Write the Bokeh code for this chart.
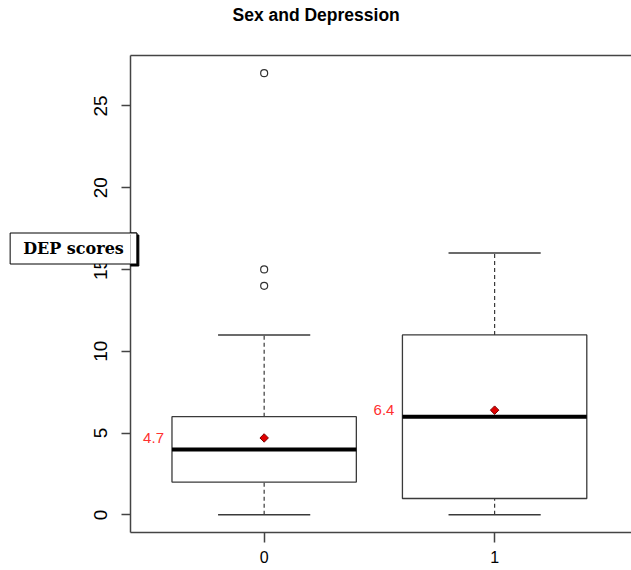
import math
from bokeh.plotting import figure
from bokeh.models import FixedTicker, LinearAxis, Label, Range1d, ColumnDataSource, Title
from bokeh.embed import file_html
from bokeh.resources import INLINE
from bokeh.core.properties import value

# ---- data ----
title = "Sex and Depression"
ylabel = "DEP scores"
groups = ["0", "1"]
q1 = [2, 1]
median = [4, 6]
q3 = [6, 11]
whisk_lo = [0, 0]
whisk_hi = [11, 16]
means = [4.7, 6.4]
outlier_group = ["0", "0", "0"]
outlier_vals = [27, 15, 14]
y_ticks = [0, 5, 10, 15, 20, 25]

# ---- derived positions ----
pos = [i + 1 for i in range(len(groups))]
gpos = {g: i + 1 for i, g in enumerate(groups)}
box_w = 0.8
cap_w = 0.4

src = ColumnDataSource(dict(
    x=pos, q1=q1, q3=q3, med=median, lo=whisk_lo, hi=whisk_hi, mean=means,
    left=[x - box_w / 2 for x in pos], right=[x + box_w / 2 for x in pos],
    cl=[x - cap_w / 2 for x in pos], cr=[x + cap_w / 2 for x in pos],
    tx=[x - 0.48 for x in pos], txt=[f"{m}" for m in means],
))
osrc = ColumnDataSource(dict(x=[gpos[g] for g in outlier_group], y=outlier_vals))

p = figure(width=631, height=570, output_backend="svg", toolbar_location=None,
           x_range=Range1d(0.42, 2.594), y_range=Range1d(-1.08, 28.08),
           min_border_left=130, min_border_right=0, min_border_top=55,
           min_border_bottom=38)
p.outline_line_color = None
p.grid.visible = False
p.background_fill_color = "white"
p.border_fill_color = "white"

frame_col = "#444444"
box_col = "#3a3a3a"

p.segment(x0="x", y0="q3", x1="x", y1="hi", source=src, line_color=box_col,
          line_width=1.2, line_dash="4 3")
p.segment(x0="x", y0="lo", x1="x", y1="q1", source=src, line_color=box_col,
          line_width=1.2, line_dash="4 3")
p.segment(x0="cl", y0="hi", x1="cr", y1="hi", source=src, line_color=box_col, line_width=1.5)
p.segment(x0="cl", y0="lo", x1="cr", y1="lo", source=src, line_color=box_col, line_width=1.5)
p.quad(left="left", right="right", bottom="q1", top="q3", source=src,
       fill_color="white", line_color=box_col, line_width=1.3)
p.segment(x0="left", y0="med", x1="right", y1="med", source=src,
          line_color="black", line_width=4)
p.scatter(x="x", y="y", source=osrc, marker="circle", size=7,
          fill_color="white", line_color="#333333", line_width=1.2)
p.scatter(x="x", y="mean", source=src, marker="square", angle=math.pi / 4, size=6,
          fill_color="#e00000", line_color="#7a0000", line_width=1)
p.text(x="tx", y="mean", text="txt", source=src, text_color="#ff3030",
       text_font=value("Liberation Sans"), text_font_size="15px",
       text_align="center", text_baseline="middle")

xa = p.xaxis[0]
xa.ticker = FixedTicker(ticks=pos)
xa.major_label_overrides = {x: g for x, g in zip(pos, groups)}
xa.minor_tick_line_color = None
xa.major_tick_out = 10
xa.major_tick_in = 0
xa.major_label_standoff = 8
xa.major_label_text_font = "Liberation Sans"
xa.major_label_text_font_size = "16px"
xa.major_label_text_color = "black"
xa.axis_line_color = frame_col
xa.axis_line_width = 1.5
xa.major_tick_line_color = frame_col
xa.major_tick_line_width = 1.5

ya = p.yaxis[0]
ya.ticker = FixedTicker(ticks=y_ticks)
ya.minor_tick_line_color = None
ya.major_tick_out = 9
ya.major_tick_in = 0
ya.major_label_standoff = 14
ya.major_label_orientation = "vertical"
ya.major_label_text_font = "Liberation Sans"
ya.major_label_text_font_size = "19px"
ya.major_label_text_color = "black"
ya.axis_line_color = frame_col
ya.axis_line_width = 1.5
ya.major_tick_line_color = frame_col
ya.major_tick_line_width = 1.5

top_axis = LinearAxis(ticker=FixedTicker(ticks=[]), major_tick_line_color=None,
                      minor_tick_line_color=None, major_label_text_font_size="0px",
                      major_tick_out=0, major_tick_in=0, major_label_standoff=0,
                      axis_line_color=frame_col, axis_line_width=1.5)
p.add_layout(top_axis, "above")

# boxed y label with drop shadow
common = dict(x=73, y=248, x_units="canvas", y_units="canvas", text=ylabel,
              text_font="DejaVu Serif", text_font_style="bold", text_font_size="16px",
              text_align="center", text_baseline="middle", padding=(13, 6))
box_style = dict(text_color="black", background_fill_color="white",
                 border_line_color="black", border_line_width=1)
# part of the box lying over the plot frame: shadow, then box again on top of it
p.add_layout(Label(x_offset=2, y_offset=-2, text_color="black",
                   background_fill_color="black", border_line_color="black", **common))
p.add_layout(Label(**box_style, **common))
# the box itself, in the side panel so that it is not clipped to the frame
p.add_layout(Label(**box_style, **common), "above")

p.add_layout(Title(text=title, align="left", offset=102, standoff=0,
                   text_font="Liberation Sans", text_font_style="bold",
                   text_font_size="17.5px", text_color="black"), "above")

open("out.html", "w").write(file_html(p, INLINE))
